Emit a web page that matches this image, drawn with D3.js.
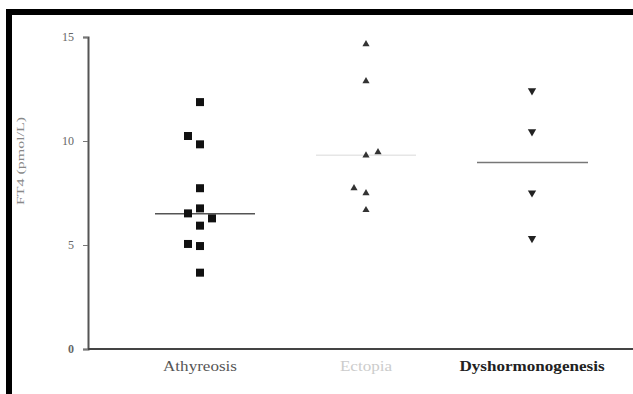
<!DOCTYPE html>
<html>
<head>
	<title>FT4 by diagnosis</title>
	<style type="text/css">
		body { margin: 0; background: #fff; }
		text { font-family: "Liberation Serif", "Times New Roman", serif; }
	</style>
</head>
<body>
	<svg></svg>
	<script src="https://cdnjs.cloudflare.com/ajax/libs/d3/7.8.5/d3.min.js"></script>
	<script type="text/javascript">
		// groups on the x axis
		var categories = ['Athyreosis', 'Ectopia', 'Dyshormonogenesis'];
		var yTicks = [0, 5, 10, 15];

		// FT4 values (pmol/L)
		var athyreosis = [11.87, 10.24, 9.84, 7.73, 6.76, 6.52, 6.28, 5.93, 5.05, 4.95, 3.67];
		var ectopia = [14.66, 12.88, 9.31, 9.46, 7.73, 7.49, 6.68];
		var dyshormonogenesis = [12.42, 10.45, 7.51, 5.32];

		// side-by-side column of each point where values collide (-1 left, 0 centre, 1 right)
		var athyreosisSlot = [0, -1, 0, 0, 0, -1, 1, 0, -1, 0, 0];
		var ectopiaSlot = [0, 0, 0, 1, -1, 0, 0];
		var dyshormonogenesisSlot = [0, 0, 0, 0];

		// median of each group
		var medians = [6.5, 9.31, 8.97];

		var width = 633;
		var height = 394;

		var svg = d3.select('svg')
			.attr('width', width)
			.attr('height', height);

		var x = d3.scalePoint()
			.domain(categories)
			.range([117, 615])
			.padding(0.5);

		var y = d3.scaleLinear()
			.domain([0, 15])
			.range([349, 37]);

		var slotWidth = 12;

		// frame
		svg.append('rect')
			.attr('x', 9)
			.attr('y', 12)
			.attr('width', 700)
			.attr('height', 500)
			.attr('fill', 'none')
			.attr('stroke', '#000')
			.attr('stroke-width', 6);

		// y axis
		var yAxis = svg.append('g')
			.attr('transform', 'translate(88,0)')
			.call(d3.axisLeft(y).tickValues(yTicks).tickSize(5).tickFormat(d3.format('d')));
		yAxis.select('.domain')
			.attr('stroke', '#555')
			.attr('stroke-width', 2);
		yAxis.selectAll('.tick line').attr('stroke', '#777');
		yAxis.selectAll('.tick text')
			.attr('x', -14)
			.attr('fill', '#666')
			.style('font-size', '12px')
			.style('font-weight', function(d) { return d === 0 ? 'bold' : 'normal'; });

		// x axis line
		svg.append('line')
			.attr('x1', 88)
			.attr('x2', width)
			.attr('y1', y(0))
			.attr('y2', y(0))
			.attr('stroke', '#444')
			.attr('stroke-width', 2);

		// category labels
		var labelColor = ['#555', '#ccc', '#222'];
		svg.selectAll('.cat').data(categories)
			.enter()
			.append('text')
			.attr('class', 'cat')
			.attr('transform', function(d) { return 'translate(' + x(d) + ',371) scale(1.22,1)'; })
			.attr('text-anchor', 'middle')
			.attr('fill', function(d, i) { return labelColor[i]; })
			.style('font-size', '14px')
			.style('font-weight', function(d, i) { return i === 2 ? 'bold' : 'normal'; })
			.text(function(d) { return d; });

		// y axis title
		svg.append('text')
			.attr('transform', 'translate(24,161) rotate(-90) scale(1.45,1)')
			.attr('text-anchor', 'middle')
			.attr('fill', '#888')
			.style('font-size', '11px')
			.text('FT4 (pmol/L)');

		// median lines
		var medianLeft = [45, 50, 55];
		var medianRight = [55, 50, 56];
		var medianColor = ['#555', '#e6e6e6', '#777'];
		svg.selectAll('.median').data(medians)
			.enter()
			.append('line')
			.attr('class', 'median')
			.attr('x1', function(d, i) { return x(categories[i]) - medianLeft[i]; })
			.attr('x2', function(d, i) { return x(categories[i]) + medianRight[i]; })
			.attr('y1', function(d) { return y(d); })
			.attr('y2', function(d) { return y(d); })
			.attr('stroke', function(d, i) { return medianColor[i]; })
			.attr('stroke-width', 1.5);

		function points(values, slots, cat) {
			return values.map(function(v, i) {
				return { value: v, slot: slots[i], cat: cat };
			});
		}

		// Athyreosis: squares
		svg.selectAll('.sq').data(points(athyreosis, athyreosisSlot, categories[0]))
			.enter()
			.append('path')
			.attr('class', 'sq')
			.attr('d', d3.symbol().type(d3.symbolSquare).size(64))
			.attr('transform', function(d) {
				return 'translate(' + (x(d.cat) + d.slot * slotWidth) + ',' + y(d.value) + ')';
			})
			.attr('fill', '#111');

		// Ectopia: triangles
		svg.selectAll('.tri').data(points(ectopia, ectopiaSlot, categories[1]))
			.enter()
			.append('path')
			.attr('class', 'tri')
			.attr('d', d3.symbol().type(d3.symbolTriangle).size(22))
			.attr('transform', function(d) {
				return 'translate(' + (x(d.cat) + d.slot * slotWidth) + ',' + y(d.value) + ')';
			})
			.attr('fill', '#333');

		// Dyshormonogenesis: inverted triangles
		svg.selectAll('.inv').data(points(dyshormonogenesis, dyshormonogenesisSlot, categories[2]))
			.enter()
			.append('path')
			.attr('class', 'inv')
			.attr('d', d3.symbol().type(d3.symbolTriangle).size(30))
			.attr('transform', function(d) {
				return 'translate(' + (x(d.cat) + d.slot * slotWidth) + ',' + y(d.value) + ') rotate(180)';
			})
			.attr('fill', '#222');
	</script>
</body>
</html>
